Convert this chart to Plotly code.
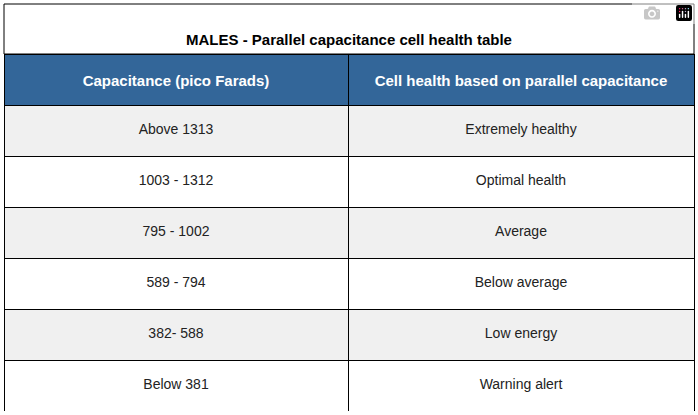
import plotly.graph_objects as go

title = "MALES - Parallel capacitance cell health table"
headers = ["Capacitance (pico Farads)", "Cell health based on parallel capacitance"]
capacitance = ["Above 1313", "1003 - 1312", "795 - 1002", "589 - 794", "382- 588", "Below 381"]
health = ["Extremely healthy", "Optimal health", "Average", "Below average", "Low energy", "Warning alert"]

W, H = 698, 415
left, right, top, title_bottom, bottom = 4, 694, 4, 54, 411
row_fill = ["#f0f0f0" if i % 2 == 0 else "white" for i in range(len(capacitance))]

fig = go.Figure(go.Table(
    domain=dict(x=[left / W, right / W], y=[1 - bottom / H, 1 - title_bottom / H]),
    columnwidth=[344, 346],
    header=dict(
        values=["<b>%s</b>" % h for h in headers],
        fill_color="#336699",
        line=dict(color="black", width=1),
        font=dict(family="Liberation Sans, Arial", color="white", size=15),
        align="center", height=51,
    ),
    cells=dict(
        values=[capacitance, health],
        fill_color=[row_fill, row_fill],
        line=dict(color="black", width=1),
        font=dict(family="Liberation Sans, Arial", color="#222222", size=14),
        align="center", height=51,
    ),
))

fig.add_shape(type="rect", xref="paper", yref="paper",
              x0=left / W, x1=right / W, y0=1 - title_bottom / H, y1=1 - top / H,
              line=dict(color="black", width=1), fillcolor="white")
fig.add_annotation(text="<b>%s</b>" % title, xref="paper", yref="paper",
                   x=0.5, y=1 - (top + title_bottom) / 2 / H, showarrow=False,
                   font=dict(family="Liberation Sans, Arial", size=15, color="black"))

fig.update_layout(width=W, height=H, margin=dict(l=0, r=0, t=0, b=0),
                  paper_bgcolor="white")

# no page margin, and push table text down to the middle of each cell
js = """
document.body.style.margin = '0';
setTimeout(function () {
  document.querySelectorAll('.cell-text').forEach(function (t) {
    t.setAttribute('transform', 'translate(0,10)');
  });
}, 300);
"""
fig.write_html("out.html", post_script=js)
